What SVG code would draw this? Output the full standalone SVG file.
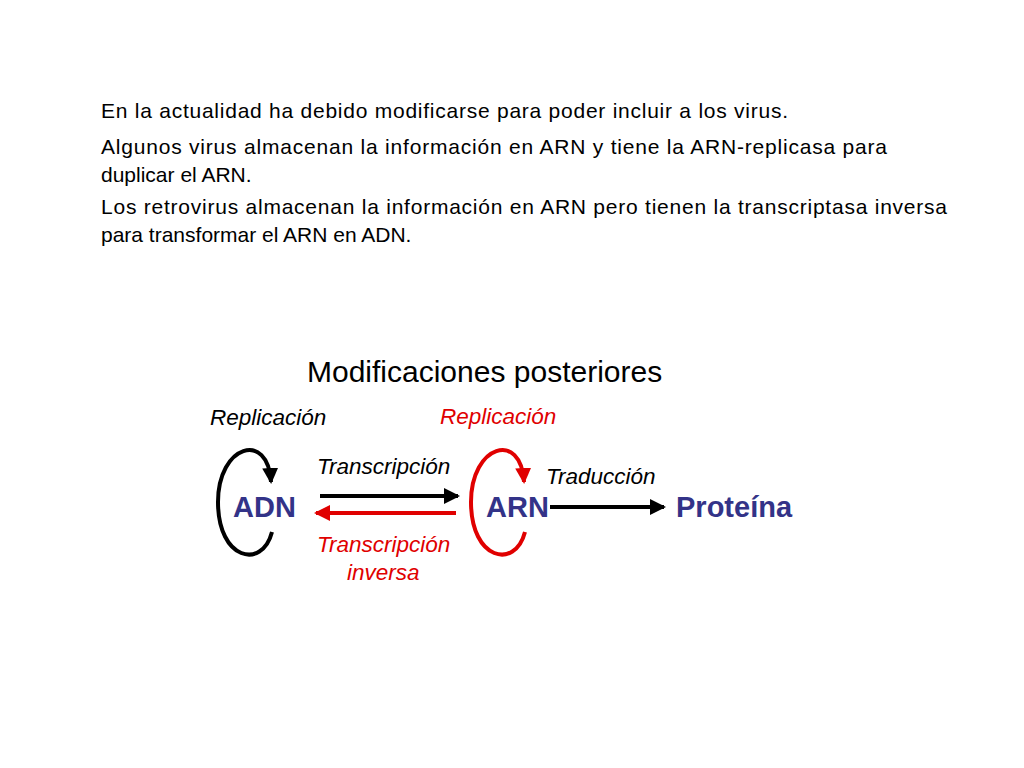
<svg xmlns="http://www.w3.org/2000/svg" width="1024" height="768" viewBox="0 0 1024 768">
<style>
.p{font-family:"Liberation Sans",Arial,sans-serif;font-size:21px;fill:#000}
.h{font-family:"Liberation Sans",Arial,sans-serif;font-size:30px;fill:#000}
.i{font-family:"Liberation Sans",Arial,sans-serif;font-size:22.5px;font-style:italic}
.n{font-family:"Liberation Sans",Arial,sans-serif;font-size:29px;font-weight:bold;fill:#333388}
</style>
<defs>
<marker id="ab" markerWidth="4" markerHeight="4" refX="3.5" refY="2" orient="auto" markerUnits="strokeWidth"><path d="M0,0L4,2L0,4z" fill="#000"/></marker>
<marker id="ar" markerWidth="4" markerHeight="4" refX="3.5" refY="2" orient="auto" markerUnits="strokeWidth"><path d="M0,0L4,2L0,4z" fill="#e00000"/></marker>
</defs>
<rect width="1024" height="768" fill="#fff"/>
<g id="text">
<text class="p" x="101" y="118" textLength="687">En la actualidad ha debido modificarse para poder incluir a los virus.</text>
<text class="p" x="101" y="154" textLength="786">Algunos virus almacenan la información en ARN y tiene la ARN-replicasa para</text>
<text class="p" x="101" y="182">duplicar el ARN.</text>
<text class="p" x="101" y="214" textLength="846">Los retrovirus almacenan la información en ARN pero tienen la transcriptasa inversa</text>
<text class="p" x="101" y="242">para transformar el ARN en ADN.</text>
<text class="h" x="307" y="382">Modificaciones posteriores</text>
</g>
<g id="adn"><text class="n" x="233" y="517">ADN</text></g>
<g id="arn"><text class="n" x="486" y="517">ARN</text></g>
<g id="proteina"><text class="n" x="676" y="517">Proteína</text></g>
<g id="labels">
<text class="i" x="210" y="425" fill="#000">Replicación</text>
<text class="i" x="440" y="424" fill="#e00000">Replicación</text>
<text class="i" x="317" y="474" fill="#000">Transcripción</text>
<text class="i" x="546" y="484" fill="#000">Traducción</text>
<text class="i" x="317" y="552" fill="#e00000">Transcripción</text>
<text class="i" x="347" y="580" fill="#e00000">inversa</text>
</g>
<g id="connectors" fill="none" stroke-width="4">
<path d="M272,532 C262,570 218,560 218,502 C218,445 268,430 271,482" stroke="#000" marker-end="url(#ab)"/>
<path d="M525,532 C515,570 471,560 471,502 C471,445 521,430 524,482" stroke="#e00000" marker-end="url(#ar)"/>
<path d="M320,496 L458,496" stroke="#000" marker-end="url(#ab)"/>
<path d="M456,513 L316,513" stroke="#e00000" marker-end="url(#ar)"/>
<path d="M550,507 L664,507" stroke="#000" marker-end="url(#ab)"/>
</g>
</svg>
